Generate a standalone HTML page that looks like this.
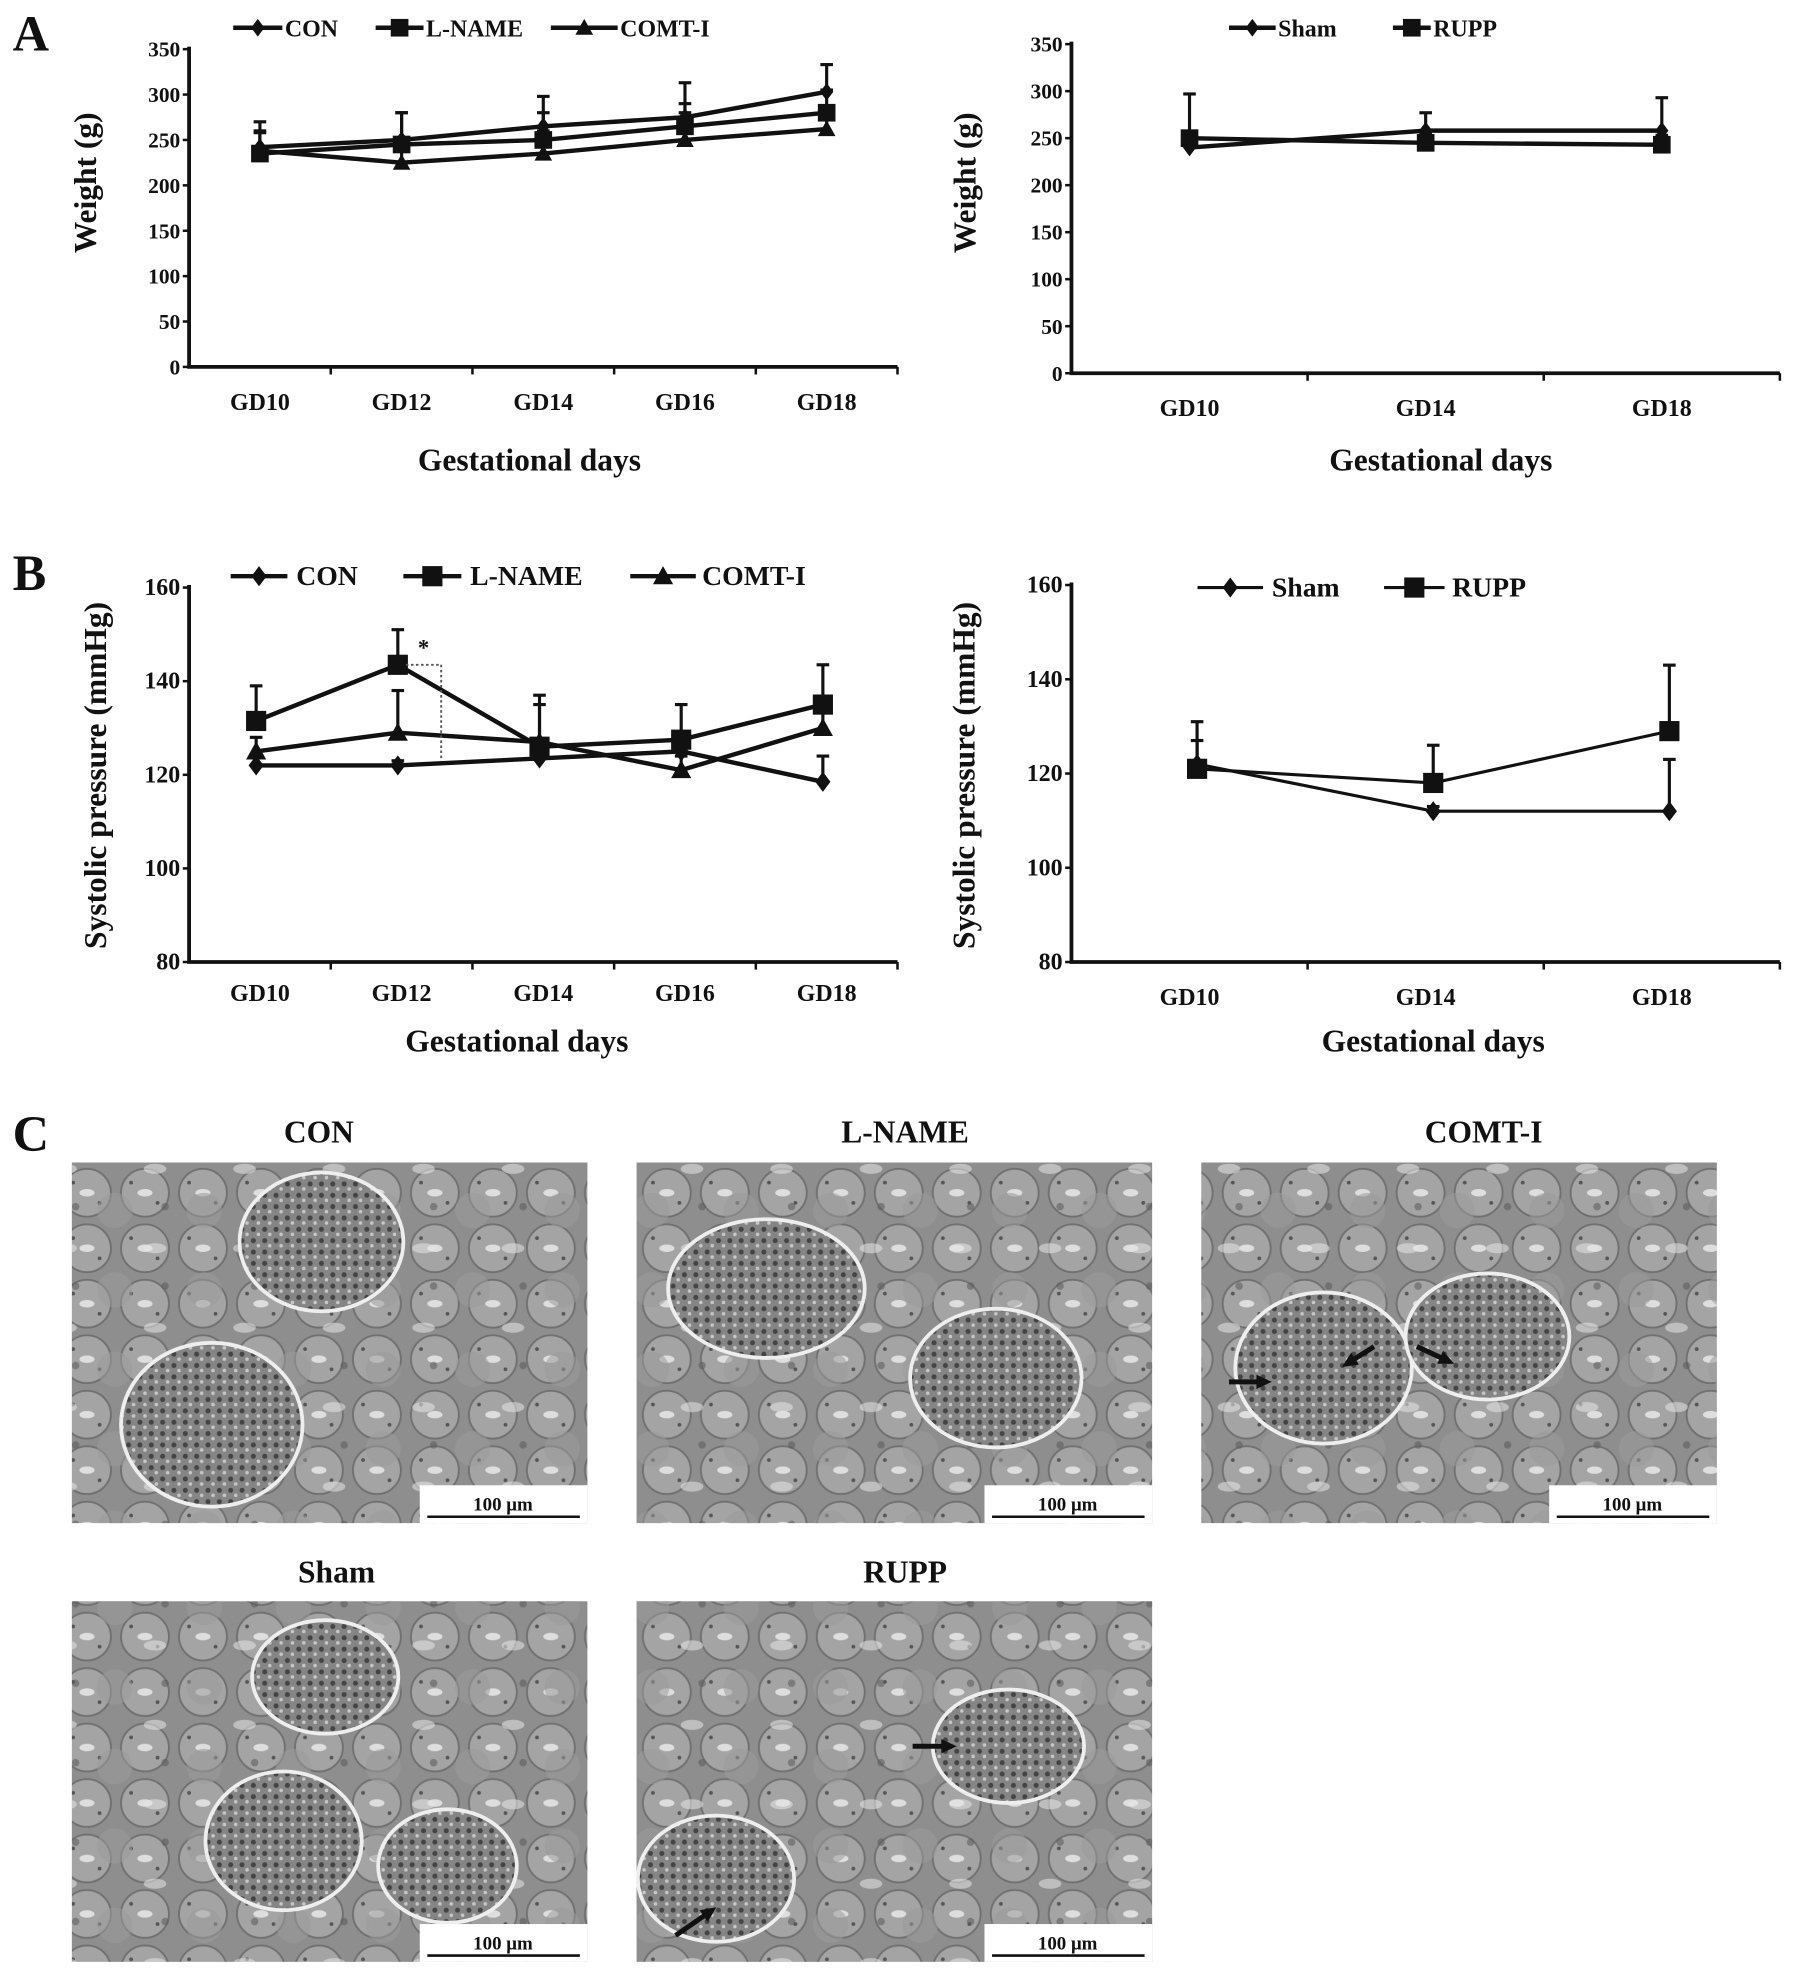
<!DOCTYPE html>
<html><head><meta charset="utf-8">
<style>
html,body{margin:0;padding:0;background:#fff;}
svg{display:block;font-family:"Liberation Serif",serif;font-weight:bold;}
</style></head>
<body>
<svg id="fig" width="1795" height="1977" viewBox="0 0 1424 1568" preserveAspectRatio="none" xmlns="http://www.w3.org/2000/svg">
<defs>
  <pattern id="tub" width="46" height="44" patternUnits="userSpaceOnUse">
    <rect width="46" height="44" fill="#8e8e8e"/>
    <circle cx="23" cy="22" r="19" fill="#a4a4a4" stroke="#707070" stroke-width="1.5"/>
    <ellipse cx="23" cy="22" rx="6" ry="3" fill="#dedede"/>
    <circle cx="12" cy="14" r="1.5" fill="#555"/><circle cx="33" cy="30" r="1.5" fill="#555"/>
  </pattern>
  <pattern id="tub2" width="71" height="63" patternUnits="userSpaceOnUse">
    <circle cx="20" cy="15" r="14" fill="#9a9a9a"/>
    <ellipse cx="52" cy="45" rx="9" ry="4" fill="#e6e6e6"/>
    <circle cx="60" cy="12" r="3" fill="#5a5a5a"/>
  </pattern>
  <pattern id="glo" width="9" height="9" patternUnits="userSpaceOnUse">
    <rect width="9" height="9" fill="#858585"/>
    <circle cx="3" cy="3" r="2" fill="#444"/><circle cx="7" cy="7" r="1.4" fill="#c8c8c8"/>
  </pattern>
</defs>
<g id="root"></g>
</svg>
<script>
// ===== Panel A left: weight =====
const aCats = ["GD10","GD12","GD14","GD16","GD18"];
const aYTicks = [0,50,100,150,200,250,300,350];
const aCON = [242,250,265,275,303];
const aCONerr = [28,30,33,38,30];
const aLNAME = [235,245,250,265,280];
const aLNAMEerr = [25,35,30,25,25];
const aCOMT = [238,225,235,250,262];
const aCOMTerr = [20,25,25,30,25];
// ===== Panel A right =====
const a2Cats = ["GD10","GD14","GD18"];
const a2Sham = [240,258,258];
const a2ShamErr = [10,19,35];
const a2RUPP = [250,245,243];
const a2RUPPerr = [47,10,10];
// ===== Panel B left: systolic pressure =====
const bYTicks = [80,100,120,140,160];
const bCON = [122,122,123.5,125,118.5];
const bCONerr = [2,1,2,2,5.5];
const bLNAME = [131.5,143.5,126,127.5,135];
const bLNAMEerr = [7.5,7.5,11,7.5,8.5];
const bCOMT = [125,129,127,121,130];
const bCOMTerr = [3,9,8,3,5];
// ===== Panel B right =====
const b2Sham = [122,112,112];
const b2ShamErr = [5,1,11];
const b2RUPP = [121,118,129];
const b2RUPPerr = [10,8,14];

const NS="http://www.w3.org/2000/svg";
const root=document.getElementById('root');
function mk(tag,attrs,parent){const e=document.createElementNS(NS,tag);for(const k in attrs)e.setAttribute(k,attrs[k]);(parent||root).appendChild(e);return e;}
function txt(s,x,y,size,anchor,parent,rot){const t=mk('text',{x:x,y:y,'font-size':size,'text-anchor':anchor||'middle',fill:'#111'},parent);t.textContent=s;if(rot)t.setAttribute('transform','rotate(-90 '+x+' '+y+')');return t;}
function marker(g,type,x,y,s){
  if(type==='d')return mk('polygon',{points:`${x},${y-s} ${x+s*0.75},${y} ${x},${y+s} ${x-s*0.75},${y}`,fill:'#111'},g);
  if(type==='s')return mk('rect',{x:x-s,y:y-s,width:2*s,height:2*s,fill:'#111'},g);
  return mk('polygon',{points:`${x},${y-s} ${x+s},${y+s*0.8} ${x-s},${y+s*0.8}`,fill:'#111'},g);
}
function chart(name,cfg,cats,yTicks,series,ylabel){
  const g=mk('g',{});
  
  
  const ymin=yTicks[0],ymax=yTicks[yTicks.length-1];
  const yS=v=>cfg.y0-(v-ymin)/(ymax-ymin)*(cfg.y0-cfg.y1);
  const band=(cfg.x1-cfg.x0)/cats.length;
  const xS=i=>cfg.x0+band*(i+0.5)+(cfg.xoff||0);
  const ax=mk('path',{d:`M${cfg.x0},${cfg.y1-2}V${cfg.y0}H${cfg.x1}`,stroke:'#111','stroke-width':3,fill:'none'},g);
  
  yTicks.forEach(v=>{
    mk('line',{x1:cfg.x0-5,x2:cfg.x0,y1:yS(v),y2:yS(v),stroke:'#111','stroke-width':2},g);
    const t=txt(String(v),cfg.x0-7,yS(v)+6,cfg.tf,'end',g);
    
  });
  for(let i=1;i<=cats.length;i++){const x=cfg.x0+band*i;mk('line',{x1:x,x2:x,y1:cfg.y0,y2:cfg.y0+6,stroke:'#111','stroke-width':2},g);}
  cats.forEach((c,i)=>{const t=txt(c,cfg.x0+band*(i+0.5),cfg.ly,19,'middle',g);});
  const xt=txt('Gestational days',cfg.xtX,cfg.xtY,25,'middle',g);
  
  const yt=txt(ylabel,cfg.ytX,cfg.ytY,25,'middle',g,true);
  
  series.forEach(s=>{
    const sg=mk('g',{},g);
    
    
    s.vals.forEach((v,i)=>{
      const x=xS(i),yt2=yS(v+s.err[i]);
      mk('line',{x1:x,x2:x,y1:yS(v),y2:yt2,stroke:'#111','stroke-width':2.5},sg);
      mk('line',{x1:x-5,x2:x+5,y1:yt2,y2:yt2,stroke:'#111','stroke-width':2.5},sg);
    });
    mk('polyline',{points:s.vals.map((v,i)=>xS(i)+','+yS(v)).join(' '),fill:'none',stroke:'#111','stroke-width':cfg.lw},sg);
    s.vals.forEach((v,i)=>{const m=marker(sg,s.m,xS(i),yS(v),cfg.ms);});
  });
  cfg.legend.forEach((l,k)=>{
    const lg=mk('g',{},g);
    
    
    mk('line',{x1:l.x1,x2:l.x2,y1:cfg.legY,y2:cfg.legY,stroke:'#111','stroke-width':cfg.lw},lg);
    marker(lg,series[k].m,(l.x1+l.x2)/2,cfg.legY,cfg.ms);
    txt(series[k].name,l.tx,cfg.legY+7,cfg.legF,'start',lg);
  });
  return {xS,yS};
}
// Panel labels
[['A',10,40],['B',10,468],['C',10,913]].forEach(p=>{const t=txt(p[0],p[1],p[2],40,'start');});

chart('weight-chart-left',{x0:150,x1:712,y0:291,y1:39,ly:325,tf:17,lw:3.5,ms:7,xtX:420,xtY:373,ytX:76,ytY:145,xoff:0,legY:22,legF:19,
  legend:[{x1:185,x2:224,tx:226},{x1:298,x2:336,tx:338},{x1:437,x2:490,tx:492}]},
  aCats,aYTicks,[{name:'CON',m:'d',vals:aCON,err:aCONerr},{name:'L-NAME',m:'s',vals:aLNAME,err:aLNAMEerr},{name:'COMT-I',m:'t',vals:aCOMT,err:aCOMTerr}],'Weight (g)');

chart('weight-chart-right',{x0:850,x1:1412,y0:296,y1:35,ly:330,tf:17,lw:3.5,ms:7,xtX:1143,xtY:373,ytX:774,ytY:145,xoff:0,legY:22,legF:19,
  legend:[{x1:975,x2:1012,tx:1014},{x1:1105,x2:1135,tx:1137}]},
  a2Cats,aYTicks,[{name:'Sham',m:'d',vals:a2Sham,err:a2ShamErr},{name:'RUPP',m:'s',vals:a2RUPP,err:a2RUPPerr}],'Weight (g)');

const bl=chart('pressure-chart-left',{x0:150,x1:712,y0:763,y1:466,ly:794,tf:19,lw:3.5,ms:8,xtX:410,xtY:834,ytX:84,ytY:615,xoff:-3,legY:457,legF:22,
  legend:[{x1:183,x2:228,tx:235},{x1:320,x2:366,tx:373},{x1:500,x2:552,tx:557}]},
  aCats,bYTicks,[{name:'CON',m:'d',vals:bCON,err:bCONerr},{name:'L-NAME',m:'s',vals:bLNAME,err:bLNAMEerr},{name:'COMT-I',m:'t',vals:bCOMT,err:bCOMTerr}],'Systolic pressure (mmHg)');
// significance bracket
const sig=mk('path',{d:`M322,${bl.yS(143.5)}H350V${bl.yS(123)}`,stroke:'#555','stroke-width':1.5,'stroke-dasharray':'2,2',fill:'none'});

const st=txt('*',336,520,18,'middle');

chart('pressure-chart-right',{x0:850,x1:1412,y0:763,y1:464,ly:797,tf:19,lw:2.5,ms:8,xtX:1137,xtY:834,ytX:773,ytY:615,xoff:6,legY:466,legF:22,
  legend:[{x1:950,x2:1002,tx:1009},{x1:1098,x2:1146,tx:1152}]},
  a2Cats,bYTicks,[{name:'Sham',m:'d',vals:b2Sham,err:b2ShamErr},{name:'RUPP',m:'s',vals:b2RUPP,err:b2RUPPerr}],'Systolic pressure (mmHg)');

// ===== Panel C micrographs =====
const micros=[
 {n:'CON',cx:253,ty:906,x:57,y:922,gl:[[255,985,65,55],[168,1130,72,65]],ar:[]},
 {n:'L-NAME',cx:718,ty:906,x:505,y:922,gl:[[608,1022,78,55],[790,1093,68,55]],ar:[]},
 {n:'COMT-I',cx:1177,ty:906,x:953,y:922,gl:[[1050,1085,70,60],[1180,1060,65,50]],ar:[[975,1096,1005,1096],[1090,1068,1068,1082],[1124,1068,1150,1080]]},
 {n:'Sham',cx:267,ty:1255,x:57,y:1270,gl:[[258,1330,58,45],[225,1460,62,55],[355,1480,55,45]],ar:[]},
 {n:'RUPP',cx:718,ty:1255,x:505,y:1270,gl:[[800,1385,60,45],[568,1490,62,50]],ar:[[724,1385,755,1385],[536,1535,565,1515]]}
];
micros.forEach(m=>{
  const g=mk('g',{});
  
  
  const t=txt(m.n,m.cx,m.ty,25,'middle',g);
  
  mk('rect',{x:m.x,y:m.y,width:409,height:286,fill:'url(#tub)'},g);
  mk('rect',{x:m.x,y:m.y,width:409,height:286,fill:'url(#tub2)',opacity:0.55},g);
  m.gl.forEach(e=>mk('ellipse',{cx:e[0],cy:e[1],rx:e[2],ry:e[3],fill:'url(#glo)',stroke:'#eeeeee','stroke-width':3},g));
  m.ar.forEach(a=>{
    const ang=Math.atan2(a[3]-a[1],a[2]-a[0]),h=10;
    mk('line',{x1:a[0],y1:a[1],x2:a[2],y2:a[3],stroke:'#111','stroke-width':4},g);
    mk('polygon',{points:`${a[2]+Math.cos(ang)*4},${a[3]+Math.sin(ang)*4} ${a[2]-Math.cos(ang-0.6)*h},${a[3]-Math.sin(ang-0.6)*h} ${a[2]-Math.cos(ang+0.6)*h},${a[3]-Math.sin(ang+0.6)*h}`,fill:'#111'},g);
  });
  const sb=mk('g',{},g);
  
  mk('rect',{x:m.x+276,y:m.y+256,width:133,height:30,fill:'#fff'},sb);
  mk('line',{x1:m.x+282,x2:m.x+403,y1:m.y+281,y2:m.y+281,stroke:'#111','stroke-width':2},sb);
  txt('100 μm',m.x+342,m.y+276,15,'middle',sb);
});
</script>
</body></html>
